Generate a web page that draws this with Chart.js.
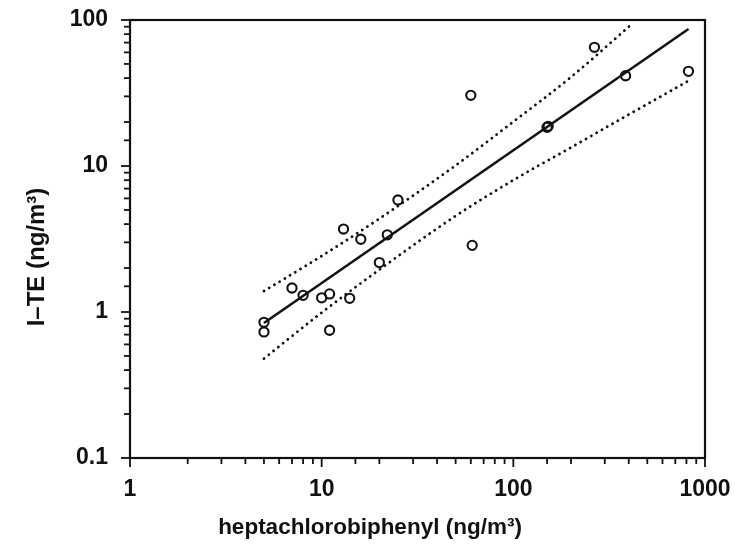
<!DOCTYPE html>
<html>
<head>
<meta charset="utf-8">
<script src="https://cdn.jsdelivr.net/npm/chart.js@4/dist/chart.umd.min.js"></script>
<style>
  html, body { margin: 0; padding: 0; background: #fff; }
  canvas { display: block; }
</style>
</head>
<body>
<canvas id="c" width="735" height="550"></canvas>
<script>
// Observed samples (heptachlorobiphenyl vs I-TE, ng/m3)
const heptaValues = [5, 5, 7, 8, 10, 11, 11, 13, 14, 16, 20, 22, 25, 60, 61, 150, 152, 265, 385, 820];
const iteValues   = [0.85, 0.73, 1.46, 1.30, 1.25, 1.33, 0.75, 3.7, 1.24, 3.15, 2.18, 3.38, 5.85, 30.5, 2.86, 18.4, 18.7, 65, 41.5, 44.5];

// Regression line
const fitX = [5, 820];
const fitY = [0.84, 86.7];

// Upper and lower dotted bands
const upperX = [5, 10, 20, 50, 100, 200, 420];
const upperY = [1.39, 2.42, 4.36, 10.1, 20.1, 40.7, 95];
const lowerX = [5, 10, 20, 50, 100, 200, 400, 820];
const lowerY = [0.48, 0.99, 1.95, 4.55, 8.0, 13.4, 22.5, 38.3];

// Axis texts and tick labels
const xTitle = 'heptachlorobiphenyl (ng/m³)';
const yTitle = 'I–TE (ng/m³)';
const xTickLabels = ['1', '10', '100', '1000'];
const yTickLabels = ['0.1', '1', '10', '100'];

const toPts = (xs, ys) => xs.map((x, i) => ({ x: x, y: ys[i] }));
const isMajor = v => Math.abs(Math.log10(v) - Math.round(Math.log10(v))) < 1e-9;
const FONT = '"Liberation Sans", Arial, sans-serif';
const INK = '#111';

const framePlugin = {
  id: 'frame',
  afterDraw(chart) {
    const { ctx, chartArea: a, scales } = chart;
    ctx.save();
    ctx.strokeStyle = INK;
    ctx.lineWidth = 2.2;
    ctx.strokeRect(a.left, a.top, a.right - a.left, a.bottom - a.top);
    ctx.lineWidth = 1.8;
    // x ticks (outward, downward)
    scales.x.ticks.forEach(t => {
      const px = scales.x.getPixelForValue(t.value);
      const len = isMajor(t.value) ? 9 : 6;
      ctx.beginPath();
      ctx.moveTo(px, a.bottom);
      ctx.lineTo(px, a.bottom + len);
      ctx.stroke();
    });
    // y ticks (outward, leftward)
    scales.y.ticks.forEach(t => {
      const py = scales.y.getPixelForValue(t.value);
      const len = isMajor(t.value) ? 9 : 6;
      ctx.beginPath();
      ctx.moveTo(a.left, py);
      ctx.lineTo(a.left - len, py);
      ctx.stroke();
    });
    // axis titles
    ctx.fillStyle = INK;
    ctx.textAlign = 'center';
    ctx.textBaseline = 'middle';
    ctx.font = 'bold 22.5px ' + FONT;
    ctx.fillText(xTitle, 370, 528);
    ctx.translate(37, 257);
    ctx.rotate(-Math.PI / 2);
    ctx.font = 'bold 24px ' + FONT;
    ctx.fillText(yTitle, 0, 0);
    ctx.restore();
  }
};

new Chart(document.getElementById('c'), {
  type: 'scatter',
  data: {
    datasets: [
      {
        label: 'upper',
        data: toPts(upperX, upperY),
        showLine: true,
        borderColor: INK,
        borderWidth: 2.8,
        borderDash: [0.1, 6],
        borderCapStyle: 'round',
        cubicInterpolationMode: 'monotone',
        pointRadius: 0,
        order: 3
      },
      {
        label: 'lower',
        data: toPts(lowerX, lowerY),
        showLine: true,
        borderColor: INK,
        borderWidth: 2.8,
        borderDash: [0.1, 6],
        borderCapStyle: 'round',
        cubicInterpolationMode: 'monotone',
        pointRadius: 0,
        order: 3
      },
      {
        label: 'fit',
        data: toPts(fitX, fitY),
        showLine: true,
        borderColor: INK,
        borderWidth: 2.6,
        pointRadius: 0,
        order: 2
      },
      {
        label: 'samples',
        data: toPts(heptaValues, iteValues),
        showLine: false,
        pointStyle: 'circle',
        pointRadius: 4.6,
        pointBorderWidth: 2.1,
        pointBorderColor: INK,
        pointBackgroundColor: 'rgba(0,0,0,0)',
        order: 1
      }
    ]
  },
  options: {
    responsive: false,
    devicePixelRatio: 1,
    animation: false,
    events: [],
    layout: { padding: { top: 20, right: 30, left: 0, bottom: 0 } },
    plugins: { legend: { display: false }, tooltip: { enabled: false } },
    scales: {
      x: {
        type: 'logarithmic',
        min: 1,
        max: 1000,
        afterFit: s => { s.height = 92; s.paddingLeft = 0; s.paddingRight = 0; },
        grid: { display: false, drawTicks: false },
        border: { display: false },
        ticks: {
          autoSkip: false,
          maxRotation: 0,
          padding: 18,
          color: INK,
          font: { family: FONT, size: 23, weight: 'bold' },
          callback: v => (isMajor(v) && xTickLabels.includes(String(v))) ? String(v) : ''
        }
      },
      y: {
        type: 'logarithmic',
        min: 0.1,
        max: 100,
        afterFit: s => { s.width = 130; s.paddingTop = 0; s.paddingBottom = 0; },
        grid: { display: false, drawTicks: false },
        border: { display: false },
        ticks: {
          autoSkip: false,
          padding: 22,
          color: INK,
          font: { family: FONT, size: 23, weight: 'bold' },
          callback: v => {
            if (!isMajor(v)) return '';
            const s = String(Number(v.toPrecision(6)));
            return yTickLabels.includes(s) ? s : '';
          }
        }
      }
    }
  },
  plugins: [framePlugin]
});
</script>
</body>
</html>
